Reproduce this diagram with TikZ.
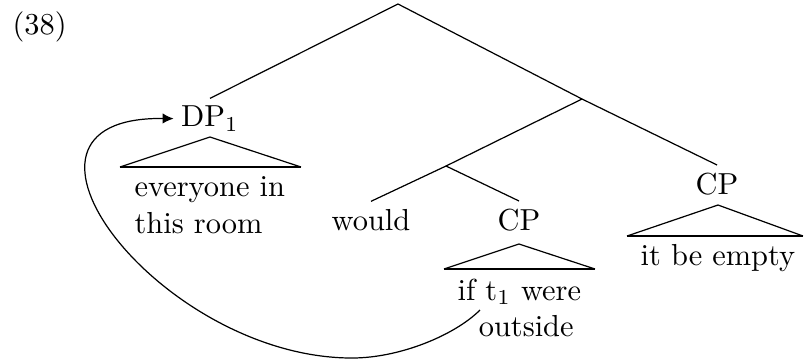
\documentclass[tikz,border=0pt]{standalone}
\usetikzlibrary{arrows.meta}
\tikzset{
  lab/.style={inner sep=2.3pt, anchor=base},
  txt/.style={inner sep=0pt, align=left, anchor=base west},
  edge/.style={line width=0.4pt},
  roofside/.style={line width=0.4pt},
  roofbase/.style={line width=0.8pt},
  move/.style={line width=0.4pt, -{Latex[length=3.6pt,width=3.4pt]}}
}
\begin{document}
\begin{tikzpicture}[x=0.329pt,y=-0.329pt]
\useasboundingbox (0,0) rectangle (804,360);
\node[inner sep=0pt, anchor=base west] (ex) at (12,34) {(38)};
% tree nodes
\coordinate (root) at (398,4);
\coordinate (n1) at (582,99);
\coordinate (n2) at (446,166);
\node[lab] (dp) at (210,126.7) {DP$_1$};
\node[lab] (would) at (371,230) {would};
\node[lab] (cpm) at (519,230) {CP};
\node[lab] (cpr) at (717,194) {CP};
% edges
\draw[edge] (root) -- (dp.north);
\draw[edge] (root) -- (n1);
\draw[edge] (n1) -- (n2);
\draw[edge] (n1) -- (cpr.north);
\draw[edge] (n2) -- (would.north);
\draw[edge] (n2) -- (cpm.north);
% roofs
\coordinate (dpA) at (210,137);
\coordinate (dpL) at (120,167);
\coordinate (dpR) at (301,167);
\draw[roofside] (dpL) -- (dpA) -- (dpR);
\draw[roofbase] (dpL) -- (dpR);
\coordinate (cmA) at (519,244);
\coordinate (cmL) at (444,269);
\coordinate (cmR) at (595,269);
\draw[roofside] (cmL) -- (cmA) -- (cmR);
\draw[roofbase] (cmL) -- (cmR);
\coordinate (crA) at (718,205);
\coordinate (crL) at (627,236);
\coordinate (crR) at (803,236);
\draw[roofside] (crL) -- (crA) -- (crR);
\draw[roofbase] (crL) -- (crR);
% texts (base anchor = baseline of last line)
\node[txt] (dptext) at (134,233.3) {everyone in\\this room};
\node[txt] (cmtext) at (457,336.7) {if t$_1$ were\\\hspace*{7pt}outside};
\node[txt] (crtext) at (640,265) {it be empty};
% movement arrow
\coordinate (trace) at (480,310);
\coordinate (low) at (352,358);
\draw[move] (trace) .. controls (455,335) and (400,358) .. (low)
  .. controls (160,358) and (-25,116) .. (dp.west);
\end{tikzpicture}
\end{document}
